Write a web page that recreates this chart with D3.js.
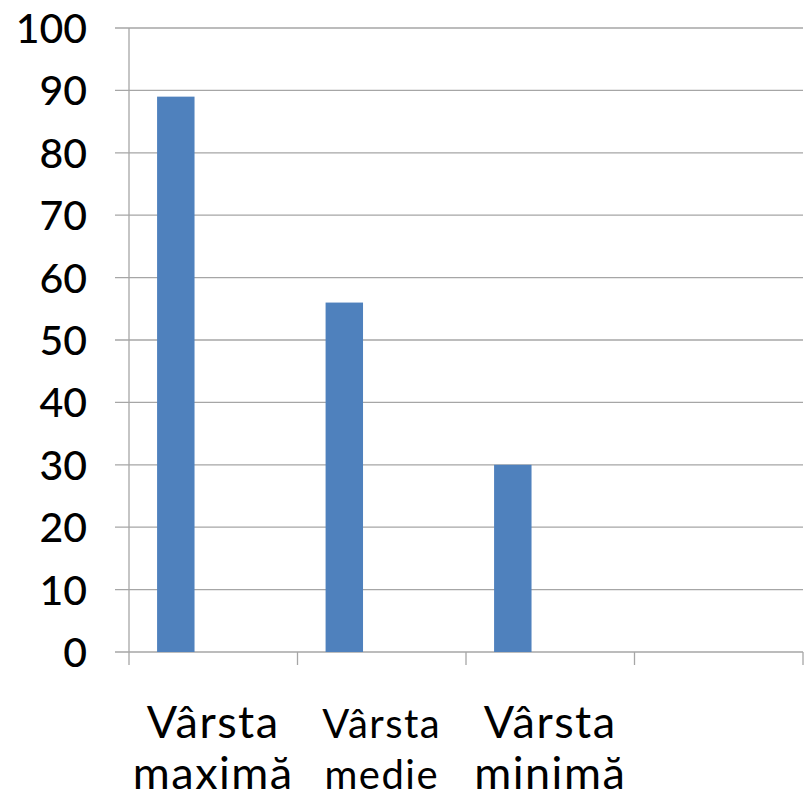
<!DOCTYPE html>
<html><head><meta charset="utf-8">
<script src="https://cdn.jsdelivr.net/npm/d3@7"></script>
<style>body{margin:0;background:#fff}svg{display:block}</style>
</head><body>
<script>
const categories = ["Vârsta maximă", "Vârsta medie", "Vârsta minimă", ""];
const labelLines = [["Vârsta", "maximă"], ["Vârsta", "medie"], ["Vârsta", "minimă"], []];
const labelSizes = [45, 40, 45, 45];
const values = [89, 56, 30, null];
const seriesSlots = ["s1", "s2", "s3"];
const yTicks = [0, 10, 20, 30, 40, 50, 60, 70, 80, 90, 100];

const W = 808, H = 799;
const m = {left: 129, right: 5, top: 28, bottom: 147};
const svg = d3.select("body").append("svg").attr("width", W).attr("height", H);

const y = d3.scaleLinear().domain([0, 100]).range([H - m.bottom, m.top]);
const x = d3.scaleBand().domain(categories.map((c, i) => i)).range([m.left, W - m.right]).paddingInner(0).paddingOuter(0);
const x1 = d3.scaleBand().domain(seriesSlots).range([0, x.bandwidth()]).paddingInner(0).paddingOuter(0.75);

const font = "Lato, 'DejaVu Sans', sans-serif";
const gridColor = "#a6a6a6";

svg.append("g").selectAll("line").data(yTicks).join("line")
  .attr("x1", m.left - 14).attr("x2", W - m.right)
  .attr("y1", d => y(d)).attr("y2", d => y(d))
  .attr("stroke", gridColor).attr("stroke-width", 1.3);

svg.append("line").attr("x1", m.left).attr("x2", m.left)
  .attr("y1", y(100)).attr("y2", y(0) + 13)
  .attr("stroke", gridColor).attr("stroke-width", 1.3);

const bounds = categories.map((c, i) => x(i)).concat([x(categories.length - 1) + x.bandwidth()]);
svg.append("g").selectAll("line").data(bounds.slice(1)).join("line")
  .attr("x1", d => d).attr("x2", d => d)
  .attr("y1", y(0)).attr("y2", y(0) + 13)
  .attr("stroke", gridColor).attr("stroke-width", 1.3);

svg.append("g").selectAll("text").data(yTicks).join("text")
  .attr("x", 87).attr("y", d => y(d) + 15)
  .attr("text-anchor", "end").attr("font-family", font).attr("font-size", 41)
  .attr("font-weight", 500)
  .attr("fill", "#000").text(d => d);

svg.append("g").selectAll("rect").data(values.map((v, i) => ({v, i})).filter(d => d.v != null)).join("rect")
  .attr("x", d => x(d.i) + x1("s1")).attr("width", x1.bandwidth())
  .attr("y", d => y(d.v)).attr("height", d => y(0) - y(d.v))
  .attr("fill", "#4f81bd");

const lg = svg.append("g").selectAll("text").data(labelLines.map((l, i) => ({l, i}))).join("text")
  .attr("text-anchor", "middle").attr("font-family", font)
  .attr("font-size", d => labelSizes[d.i]).attr("letter-spacing", 1.5).attr("fill", "#000");
lg.selectAll("tspan").data(d => d.l.map((t, j) => ({t, j, i: d.i}))).join("tspan")
  .attr("x", d => x(d.i) + x.bandwidth() / 2)
  .attr("y", d => 738 + d.j * 51)
  .text(d => d.t);
</script>
</body></html>
